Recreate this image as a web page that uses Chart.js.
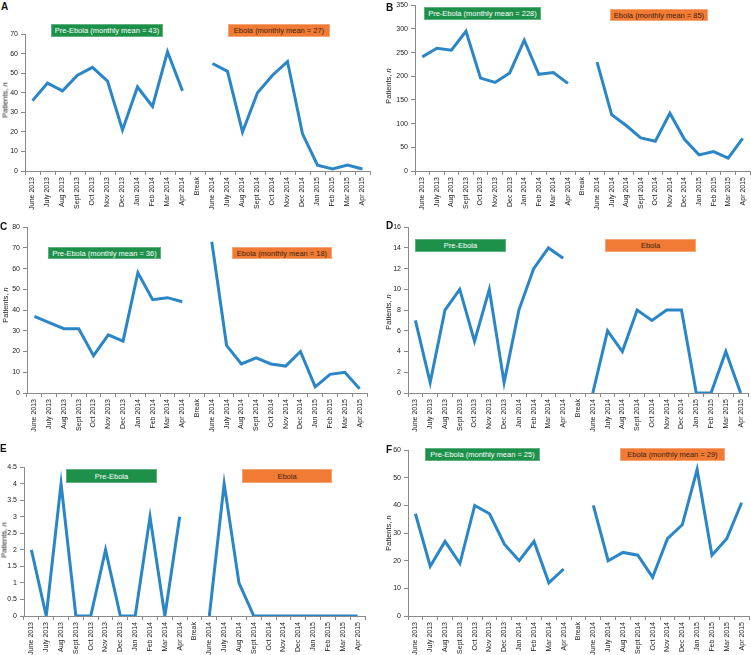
<!DOCTYPE html>
<html>
<head>
<meta charset="utf-8">
<script src="https://cdn.jsdelivr.net/npm/chart.js@4.4.1/dist/chart.umd.min.js"></script>
<style>
  html, body { margin: 0; padding: 0; background: #fff; overflow: hidden; }
  #wrap { position: relative; width: 751px; height: 655px; overflow: hidden; background: #fff; font-family: "Liberation Sans", Arial, sans-serif; }
  #wrap canvas { position: absolute; }
  .letter { position: absolute; font-weight: bold; font-size: 10px; line-height: 10px; color: #111; }
  .ytitle { position: absolute; font-size: 7.5px; color: #222; white-space: nowrap; transform: translate(-50%, -50%) rotate(-90deg); }
  .box { position: absolute; font-size: 7.5px; display: flex; align-items: center; justify-content: center; white-space: nowrap; box-sizing: border-box; }
  .pre { background: #1d9149; color: #fff; border: 1px solid #5fb17f; }
  .ebola { background: #f17a34; color: #3b2410; border: 1px solid #f5a676; }
</style>
</head>
<body>
<div id="wrap"></div>
<script>
(function() {
    'use strict';

    // Categories (x axis)
    const months = ['June 2013', 'July 2013', 'Aug 2013', 'Sept 2013', 'Oct 2013', 'Nov 2013',
        'Dec 2013', 'Jan 2014', 'Feb 2014', 'Mar 2014', 'Apr 2014', 'Break',
        'June 2014', 'July 2014', 'Aug 2014', 'Sept 2014', 'Oct 2014', 'Nov 2014',
        'Dec 2014', 'Jan 2015', 'Feb 2015', 'Mar 2015', 'Apr 2015'];

    // Series values (null = Break)
    const seriesA = [36, 45, 41, 49, 53, 46, 21, 43, 33, 61, 41, null, 55, 51, 20, 40, 49, 56, 19, 3, 1, 3, 1];
    const seriesB = [241, 259, 255, 295, 196, 187, 207, 276, 204, 208, 185, null, 230, 119, 96, 70, 63, 122, 67, 34, 41, 27, 69];
    const seriesC = [37, 34, 31, 31, 18, 28, 25, 58, 45, 46, 44, null, 73, 23, 14, 17, 14, 13, 20, 3, 9, 10, 2];
    const seriesD = [7, 1, 8, 10, 5, 10, 1, 8, 12, 14, 13, null, 0, 6, 4, 8, 7, 8, 8, 0, 0, 4, 0];
    const seriesE = [2, 0, 4, 0, 0, 2, 0, 0, 3, 0, 3, null, 0, 4, 1, 0, 0, 0, 0, 0, 0, 0, 0];
    const seriesF = [37, 18, 27, 19, 40, 37, 26, 20, 27, 12, 17, null, 40, 20, 23, 22, 14, 28, 33, 53, 22, 28, 41];

    // Y axis ranges
    const yMaxes = [70, 350, 80, 16, 4.5, 60];
    const ySteps = [10, 50, 10, 2, 0.5, 10];

    // Panel letters and period labels
    const panelLetters = ['A', 'B', 'C', 'D', 'E', 'F'];
    const preLabels = ['Pre-Ebola (monthly mean = 43)', 'Pre-Ebola (monthly mean = 228)', 'Pre-Ebola (monthly mean = 36)',
        'Pre-Ebola', 'Pre-Ebola', 'Pre-Ebola (monthly mean = 25)'];
    const ebolaLabels = ['Ebola (monthly mean = 27)', 'Ebola (monthly mean = 85)', 'Ebola (monthly mean = 18)',
        'Ebola', 'Ebola', 'Ebola (monthly mean = 29)'];

    const allSeries = [seriesA, seriesB, seriesC, seriesD, seriesE, seriesF];

    // Layout: chart area (l,t,r,b), panel left x0, letter pos, y-title centre, boxes [x1,y1,x2,y2]
    const layout = [
        { x0: 0,   area: [25, 33, 370, 171],  letter: [1, 2],    title: [5, 100],   pre: [51, 24, 163, 37],   ebo: [228, 24, 330, 37] },
        { x0: 375, area: [415, 4, 750, 171],  letter: [386, 3],  title: [388, 86],  pre: [424, 7, 541, 20],   ebo: [610, 9, 708, 21] },
        { x0: 0,   area: [27, 226, 367, 393], letter: [0, 222],  title: [5, 305],   pre: [48, 247, 161, 259], ebo: [232, 247, 332, 259] },
        { x0: 375, area: [408, 226, 748, 393], letter: [386, 221], title: [388, 312], pre: [415, 239, 506, 252], ebo: [605, 239, 696, 252] },
        { x0: 0,   area: [24, 466, 365, 616], letter: [0, 444],  title: [4, 540],   pre: [66, 469, 157, 483], ebo: [242, 469, 332, 483] },
        { x0: 375, area: [408, 449, 749, 616], letter: [386, 445], title: [388, 533], pre: [425, 448, 540, 461], ebo: [620, 448, 725, 461] }
    ];

    const PAD_TOP = 6, PAD_RIGHT = 5, X_AXIS_H = 44;
    const axisColor = '#8a8a8a';
    const tickFont = { family: 'Liberation Sans', size: 7 };
    const wrap = document.getElementById('wrap');

    function addDiv(cls, html, style) {
        const d = document.createElement('div');
        d.className = cls;
        d.innerHTML = html;
        Object.assign(d.style, style);
        wrap.appendChild(d);
        return d;
    }

    layout.forEach(function(p, i) {
        const l = p.area[0], t = p.area[1], r = p.area[2], b = p.area[3];
        const yW = l - p.x0;
        const cx = p.x0, cy = t - PAD_TOP;
        const cw = r + PAD_RIGHT - cx, ch = b + X_AXIS_H - cy;

        const canvas = document.createElement('canvas');
        canvas.width = cw;
        canvas.height = ch;
        canvas.style.left = cx + 'px';
        canvas.style.top = cy + 'px';
        canvas.style.width = cw + 'px';
        canvas.style.height = ch + 'px';
        wrap.appendChild(canvas);

        new Chart(canvas, {
            type: 'line',
            data: {
                labels: months,
                datasets: [{
                    data: allSeries[i],
                    borderColor: '#2b86c6',
                    borderWidth: 3,
                    pointRadius: 0,
                    tension: 0,
                    spanGaps: false,
                    fill: false
                }]
            },
            options: {
                responsive: false,
                animation: false,
                events: [],
                layout: { padding: { top: PAD_TOP, right: PAD_RIGHT, left: 0, bottom: 0 } },
                plugins: { legend: { display: false }, tooltip: { enabled: false } },
                scales: {
                    x: {
                        offset: true,
                        grid: { display: true, offset: true, drawOnChartArea: false, tickLength: 4, color: axisColor },
                        border: { color: axisColor },
                        ticks: { autoSkip: false, minRotation: 90, maxRotation: 90, font: tickFont, color: '#222', padding: 2 },
                        afterFit: function(s) { s.height = X_AXIS_H; }
                    },
                    y: {
                        min: 0,
                        max: yMaxes[i],
                        grid: { drawOnChartArea: false, tickLength: 4, color: axisColor },
                        border: { color: axisColor },
                        ticks: { stepSize: ySteps[i], font: tickFont, color: '#222', padding: 3,
                            callback: function(v) { return String(v); } },
                        afterFit: function(s) { s.width = yW; }
                    }
                }
            }
        });

        addDiv('letter', panelLetters[i], { left: p.letter[0] + 'px', top: p.letter[1] + 'px' });
        addDiv('ytitle', 'Patients, <i>n</i>', { left: p.title[0] + 'px', top: p.title[1] + 'px' });
        addDiv('box pre', preLabels[i], {
            left: p.pre[0] + 'px', top: p.pre[1] + 'px',
            width: (p.pre[2] - p.pre[0]) + 'px', height: (p.pre[3] - p.pre[1]) + 'px'
        });
        addDiv('box ebola', ebolaLabels[i], {
            left: p.ebo[0] + 'px', top: p.ebo[1] + 'px',
            width: (p.ebo[2] - p.ebo[0]) + 'px', height: (p.ebo[3] - p.ebo[1]) + 'px'
        });
    });
})();
</script>
</body>
</html>
